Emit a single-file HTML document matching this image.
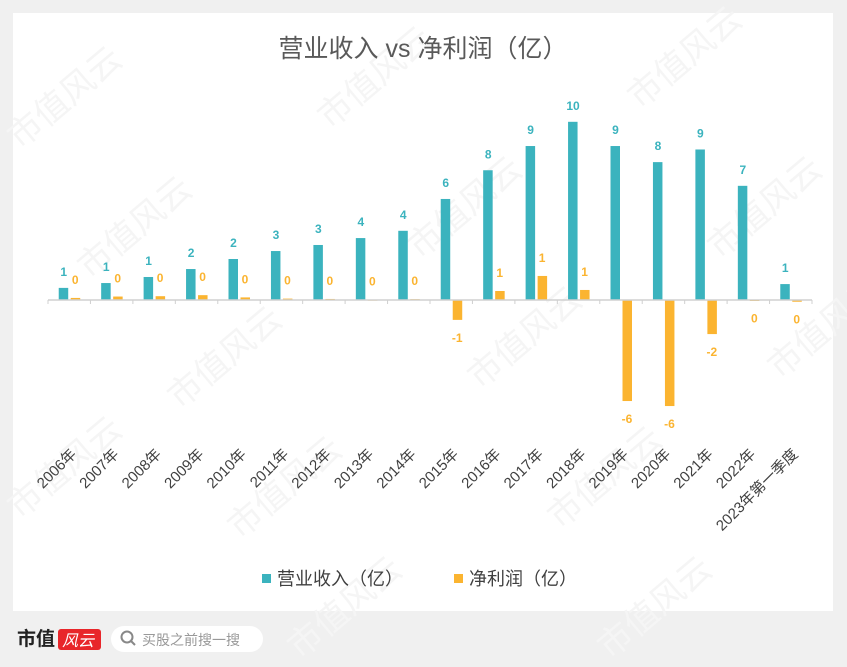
<!DOCTYPE html>
<html><head><meta charset="utf-8"><style>
body{margin:0;background:#f0f0f0;font-family:"Liberation Sans","Noto Sans CJK SC",sans-serif;}
#wrap{position:relative;width:847px;height:667px;overflow:hidden;background:#f0f0f0}
</style></head><body>
<div id="wrap">
<svg id="chart" width="847" height="667" xmlns="http://www.w3.org/2000/svg">
<rect x="13" y="13" width="820" height="598" fill="#ffffff"/>
<g id="wm" fill="#f5f5f5" font-size="34" font-family="Liberation Sans, Noto Sans CJK SC, sans-serif">
<text transform="translate(20,150) rotate(-40)">市值风云</text>
<text transform="translate(330,130) rotate(-40)">市值风云</text>
<text transform="translate(640,110) rotate(-40)">市值风云</text>
<text transform="translate(90,280) rotate(-40)">市值风云</text>
<text transform="translate(420,260) rotate(-40)">市值风云</text>
<text transform="translate(720,260) rotate(-40)">市值风云</text>
<text transform="translate(180,410) rotate(-40)">市值风云</text>
<text transform="translate(480,390) rotate(-40)">市值风云</text>
<text transform="translate(780,380) rotate(-40)">市值风云</text>
<text transform="translate(20,520) rotate(-40)">市值风云</text>
<text transform="translate(240,540) rotate(-40)">市值风云</text>
<text transform="translate(560,530) rotate(-40)">市值风云</text>
<text transform="translate(300,660) rotate(-40)">市值风云</text>
<text transform="translate(610,660) rotate(-40)">市值风云</text>
</g>
<text x="423" y="57" text-anchor="middle" font-size="25" fill="#595959">营业收入 vs 净利润（亿）</text>
<g id="plot"></g>
<g>
<rect x="262" y="574" width="9" height="9" fill="#3bb3be"/>
<text x="277" y="585" font-size="18" fill="#404040">营业收入（亿）</text>
<rect x="454" y="574" width="9" height="9" fill="#fbb430"/>
<text x="469" y="585" font-size="18" fill="#404040">净利润（亿）</text>
</g>
<g>
<text x="17" y="645" font-size="19" font-weight="bold" fill="#222">市值</text>
<rect x="58" y="629" width="43" height="21" rx="3" fill="#e8262a"/>
<text x="62" y="646" font-size="16" font-style="italic" fill="#fff">风云</text>
</g>
<g>
<rect x="111" y="626" width="152" height="26" rx="13" fill="#ffffff"/>
<circle cx="127" cy="637" r="5.5" fill="none" stroke="#888" stroke-width="2"/>
<line x1="131" y1="641" x2="135" y2="645" stroke="#888" stroke-width="2"/>
<text x="142" y="645" font-size="14" fill="#999">买股之前搜一搜</text>
</g>
</svg>
</div>
<script>
const categories=["2006年","2007年","2008年","2009年","2010年","2011年","2012年","2013年","2014年","2015年","2016年","2017年","2018年","2019年","2020年","2021年","2022年","2023年第一季度"];
const revenue=[0.7,0.98,1.33,1.79,2.37,2.83,3.18,3.58,4.0,5.84,7.5,8.9,10.3,8.9,7.97,8.7,6.6,0.92];
const profit=[0.12,0.2,0.22,0.28,0.15,0.08,0.06,0.02,0.05,-1.15,0.52,1.39,0.58,-5.84,-6.13,-1.97,-0.02,-0.1];
const revLabels=["1","1","1","2","2","3","3","4","4","6","8","9","10","9","8","9","7","1"];
const profLabels=["0","0","0","0","0","0","0","0","0","-1","1","1","1","-6","-6","-2","0","0"];

const NS="http://www.w3.org/2000/svg";
const plot=document.getElementById('plot');
const x0=48,x1=812,zeroY=300,pxPerUnit=17.3;
const bw=(x1-x0)/categories.length;
function xCat(i){return x0+bw*i;}
function yVal(v){return zeroY-v*pxPerUnit;}
function mk(tag,attrs){const e=document.createElementNS(NS,tag);for(const k in attrs)e.setAttribute(k,attrs[k]);plot.appendChild(e);return e;}

categories.forEach((c,i)=>{
  const cx=xCat(i)+bw/2;
  const rv=revenue[i],ry=yVal(Math.max(rv,0)),rh=Math.abs(yVal(rv)-zeroY);
  const r=mk('rect',{x:cx-10.5,y:ry,width:9.5,height:rh,fill:'#3bb3be'});
  
  
  const rt=mk('text',{x:cx-5.5,y:(rv>=0?yVal(rv)-12:yVal(rv)+24),'text-anchor':'middle','font-size':12,'font-weight':'bold',fill:'#3bb3be'});
  rt.textContent=revLabels[i];
  
  
  const pv=profit[i],py=yVal(Math.max(pv,0)),ph=Math.max(Math.abs(yVal(pv)-zeroY),1);
  const p=mk('rect',{x:cx+1.5,y:py,width:9.5,height:ph,fill:'#fbb430'});
  
  
  const pt=mk('text',{x:cx+6,y:(pv>=0?yVal(pv)-14:yVal(pv)+22),'text-anchor':'middle','font-size':12,'font-weight':'bold',fill:'#fbb430'});
  pt.textContent=profLabels[i];
  
  
  const xl=mk('text',{transform:'translate('+(cx+8)+',455) rotate(-45)','text-anchor':'end','font-size':15,fill:'#404040'});
  xl.textContent=c;
  
  
});
const ax=mk('line',{x1:x0,y1:zeroY,x2:x1,y2:zeroY,stroke:'#d0d0d0','stroke-width':1.5});


for(let i=0;i<=categories.length;i++){
  const t=mk('line',{x1:xCat(i),y1:zeroY,x2:xCat(i),y2:zeroY+4,stroke:'#d0d0d0'});
  
  
}
</script>
</body></html>
